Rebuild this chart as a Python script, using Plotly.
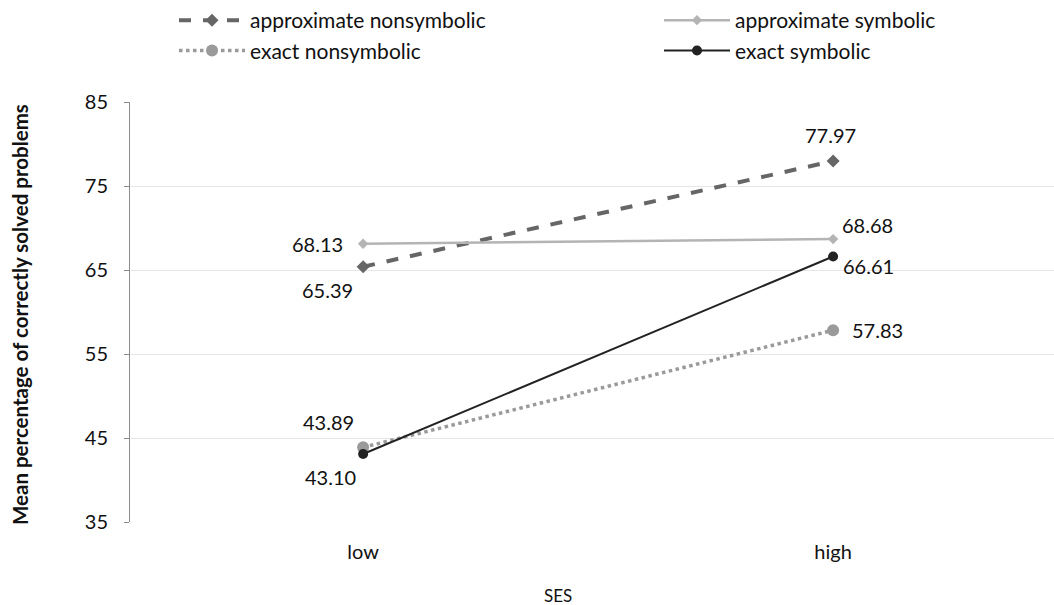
import plotly.graph_objects as go

categories = ["low", "high"]
series_names = ["approximate nonsymbolic", "approximate symbolic", "exact nonsymbolic", "exact symbolic"]
approx_nonsym = [65.39, 77.97]
approx_sym = [68.13, 68.68]
exact_nonsym = [43.89, 57.83]
exact_sym = [43.10, 66.61]
label_text = {
    "approximate nonsymbolic": ["65.39", "77.97"],
    "approximate symbolic": ["68.13", "68.68"],
    "exact nonsymbolic": ["43.89", "57.83"],
    "exact symbolic": ["43.10", "66.61"],
}

FONT = "Lato"
FS = 20
values = {
    "approximate nonsymbolic": approx_nonsym,
    "approximate symbolic": approx_sym,
    "exact nonsymbolic": exact_nonsym,
    "exact symbolic": exact_sym,
}
styles = {
    "approximate nonsymbolic": dict(line=dict(color="#666666", width=4, dash="dash"),
                                    marker=dict(symbol="diamond", size=10, color="#666666")),
    "approximate symbolic": dict(line=dict(color="#b4b4b4", width=2.5, dash="solid"),
                                 marker=dict(symbol="diamond", size=8, color="#b4b4b4")),
    "exact nonsymbolic": dict(line=dict(color="#9a9a9a", width=3.5, dash="dot"),
                              marker=dict(symbol="circle", size=12, color="#9a9a9a")),
    "exact symbolic": dict(line=dict(color="#222222", width=2, dash="solid"),
                           marker=dict(symbol="circle", size=10, color="#222222")),
}
legend_of = {
    "approximate nonsymbolic": "legend",
    "exact nonsymbolic": "legend",
    "approximate symbolic": "legend2",
    "exact symbolic": "legend2",
}
# label offsets (pixels) relative to the points
offsets = {
    "approximate nonsymbolic": [(-36, -23), (-3, 26)],
    "approximate symbolic": [(-46, 0), (34, 14)],
    "exact nonsymbolic": [(-35, 25), (44, 0)],
    "exact symbolic": [(-33, -23), (35, -10)],
}

fig = go.Figure()
for name in series_names:
    fig.add_trace(go.Scatter(x=categories, y=values[name], mode="lines+markers",
                             name=name, legend=legend_of[name], legendgroup=name,
                             **styles[name]))
    for i, cat in enumerate(categories):
        dx, dy = offsets[name][i]
        fig.add_annotation(x=cat, y=values[name][i], text=label_text[name][i],
                           showarrow=False, xshift=dx, yshift=dy,
                           font=dict(family=FONT, size=FS, color="#111111"))

# axis titles as annotations
fig.add_annotation(text="<b>Mean percentage of correctly solved problems</b>",
                   xref="paper", yref="paper", x=0, y=0.5, xanchor="center",
                   yanchor="middle", xshift=-110, yshift=-3, textangle=-90,
                   showarrow=False,
                   font=dict(family=FONT, size=20.5, color="#111111"))
fig.add_annotation(text="SES", xref="paper", yref="paper", x=(558 - 130) / 924, y=0,
                   xanchor="center", yanchor="middle", yshift=-73, showarrow=False,
                   font=dict(family=FONT, size=17, color="#111111"))

leg_common = dict(orientation="v", yanchor="top", xanchor="left",
                  xref="container", yref="container", tracegroupgap=0,
                  itemwidth=66,
                  font=dict(family=FONT, size=21, color="#111111"),
                  bgcolor="rgba(0,0,0,0)")

W, H = 1054, 605
fig.update_layout(
    width=W, height=H,
    paper_bgcolor="white", plot_bgcolor="white",
    margin=dict(l=130, r=0, t=102, b=83, autoexpand=False),
    font=dict(family=FONT, size=FS, color="#111111"),
    showlegend=True,
    legend=dict(x=174 / W, y=1.0, **leg_common),
    legend2=dict(x=659 / W, y=1.0, **leg_common),
    xaxis=dict(type="category", range=[-0.496, 1.47], showgrid=False, zeroline=False,
               showline=False, ticks="", automargin=False, ticklabelstandoff=16,
               tickfont=dict(family=FONT, size=FS)),
    yaxis=dict(range=[35, 85], tickvals=[35, 45, 55, 65, 75, 85], showgrid=True,
               gridcolor="#e6e6e6", gridwidth=1, zeroline=False, showline=True,
               linecolor="#8c8c8c", linewidth=1, ticks="outside", ticklen=5,
               tickcolor="#8c8c8c", automargin=False, ticklabelstandoff=12,
               tickfont=dict(family=FONT, size=FS)),
)

fig.write_html("out.html", config={"displayModeBar": False},
               post_script="document.body.style.margin='0';")
